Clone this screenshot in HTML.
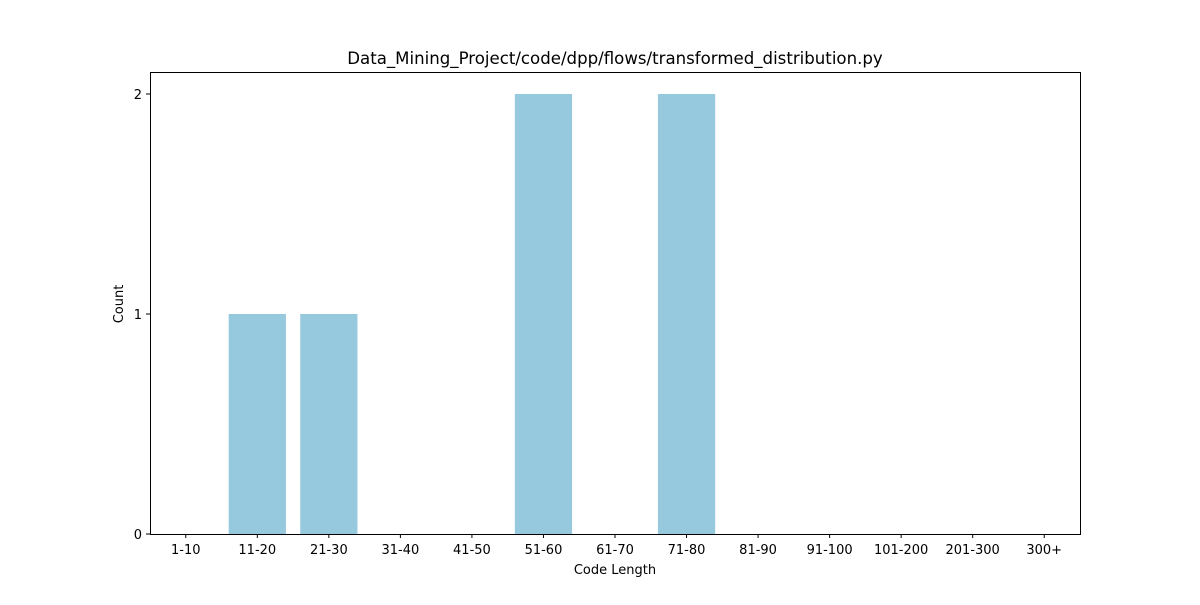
<!DOCTYPE html>
<html><head><meta charset="utf-8"><style>
body{margin:0;background:#fff;}
svg text{font-family:"DejaVu Sans","Liberation Sans",sans-serif;fill:#000;}
</style></head><body>
<svg id="chart" width="1200" height="600" xmlns="http://www.w3.org/2000/svg">
<rect width="1200" height="600" fill="#fff"/>
<text x="615" y="64" text-anchor="middle" font-size="16.6">Data_Mining_Project/code/dpp/flows/transformed_distribution.py</text>
<g id="bars"></g>
<rect x="150.5" y="72.5" width="930" height="462" fill="none" stroke="#000" stroke-width="1"/>
<g id="xticks"></g><g id="yticks"></g>
<text x="615" y="574" text-anchor="middle" font-size="13">Code Length</text>
<text transform="translate(123,304) rotate(-90)" text-anchor="middle" font-size="13">Count</text>
</svg>
<script>
const categories=["1-10","11-20","21-30","31-40","41-50","51-60","61-70","71-80","81-90","91-100","101-200","201-300","300+"];
const counts=[0,1,1,0,0,2,0,2,0,0,0,0,0];
const yTicks=[0,1,2];
const NS="http://www.w3.org/2000/svg";
const L=150,R=1080,T=72,B=534,yMax=2.1;
const step=(R-L)/categories.length;
const x=i=>L+step*(i+0.5);
const y=v=>B-(v/yMax)*(B-T);
function mk(tag,attrs,parent){const e=document.createElementNS(NS,tag);for(const k in attrs)e.setAttribute(k,attrs[k]);parent.appendChild(e);return e;}
const bars=document.getElementById('bars'),xt=document.getElementById('xticks'),yt=document.getElementById('yticks');
categories.forEach((c,i)=>{
  if(counts[i]>0){
    const r=mk('rect',{x:x(i)-step*0.4,y:y(counts[i]),width:step*0.8,height:B-y(counts[i]),fill:'#96c9dd'},bars);
    
    
  }
  const tk=mk('line',{x1:x(i),x2:x(i),y1:B,y2:B+4,stroke:'#000'},xt);
  
  
  const t=mk('text',{x:x(i),y:B+20,'text-anchor':'middle','font-size':'13'},xt);
  t.textContent=c;
  
  
});
yTicks.forEach(v=>{
  const tk=mk('line',{x1:L-4,x2:L,y1:y(v),y2:y(v),stroke:'#000'},yt);
  
  
  const t=mk('text',{x:L-8,y:y(v)+5,'text-anchor':'end','font-size':'13'},yt);
  t.textContent=v;
  
  
});
</script>
</body></html>
